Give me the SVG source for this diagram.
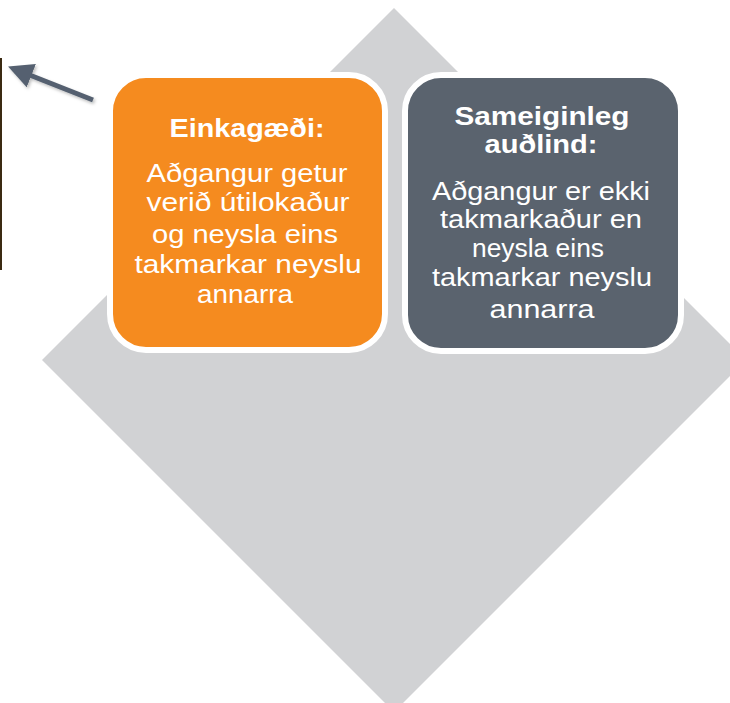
<svg xmlns="http://www.w3.org/2000/svg" width="730" height="703" viewBox="0 0 730 703">
<defs>
<style>
.t{font-family:"Liberation Sans",Arial,sans-serif;fill:#ffffff;text-anchor:middle;font-size:25px}
.b{font-weight:bold}
</style>
<marker id="ah" markerWidth="5" markerHeight="5" refX="2" refY="2.5" orient="auto" markerUnits="strokeWidth">
<path d="M0,0 L5,2.5 L0,5 Z" fill="#556170"/>
</marker>
<filter id="sh" x="-20%" y="-50%" width="140%" height="200%">
<feDropShadow dx="1.5" dy="2" stdDeviation="1.5" flood-color="#000" flood-opacity="0.25"/>
</filter>
</defs>
<rect width="730" height="703" fill="#ffffff"/>
<polygon id="diamond" points="394,8 746,360 394,712 42,360" fill="#D1D2D4"/>
<rect id="edge" x="0" y="58" width="2" height="212" fill="#3b2a12"/>
<g id="connectors">
<line x1="93" y1="100" x2="22" y2="72" stroke="#556170" stroke-width="5" marker-end="url(#ah)" filter="url(#sh)"/>
</g>
<g id="private">
<rect x="110" y="75" width="275" height="275" rx="36" fill="#F58B1F" stroke="#ffffff" stroke-width="6"/>
<text class="t b" x="247" y="137" textLength="155" lengthAdjust="spacingAndGlyphs">Einkagæði:</text>
<text class="t" x="247" y="182" textLength="201" lengthAdjust="spacingAndGlyphs">Aðgangur  getur</text>
<text class="t" x="248" y="211" textLength="203" lengthAdjust="spacingAndGlyphs">verið útilokaður</text>
<text class="t" x="245" y="243" textLength="186" lengthAdjust="spacingAndGlyphs">og neysla eins</text>
<text class="t" x="248" y="273" textLength="227" lengthAdjust="spacingAndGlyphs">takmarkar neyslu</text>
<text class="t" x="245" y="303" textLength="96" lengthAdjust="spacingAndGlyphs">annarra</text>
</g>
<g id="common">
<rect x="405" y="75" width="276" height="276" rx="36" fill="#5A636E" stroke="#ffffff" stroke-width="6"/>
<text class="t b" x="542" y="125" textLength="175" lengthAdjust="spacingAndGlyphs">Sameiginleg</text>
<text class="t b" x="541" y="153" textLength="113" lengthAdjust="spacingAndGlyphs">auðlind:</text>
<text class="t" x="541" y="200" textLength="218" lengthAdjust="spacingAndGlyphs">Aðgangur  er ekki</text>
<text class="t" x="541" y="228" textLength="202" lengthAdjust="spacingAndGlyphs">takmarkaður en</text>
<text class="t" x="538" y="257" textLength="132" lengthAdjust="spacingAndGlyphs">neysla eins</text>
<text class="t" x="542" y="286" textLength="220" lengthAdjust="spacingAndGlyphs">takmarkar neyslu</text>
<text class="t" x="542" y="318" textLength="105" lengthAdjust="spacingAndGlyphs">annarra</text>
</g>
</svg>
